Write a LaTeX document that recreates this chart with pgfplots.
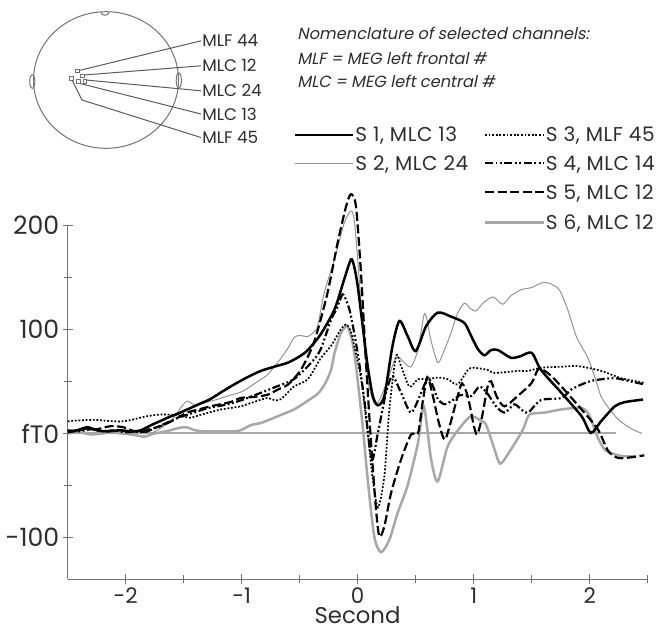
\documentclass[border=0pt]{standalone}
\usepackage{fontspec}
\setmainfont{Poppins}
\newfontfamily\obliquefont{Poppins}[FakeSlant=0.2]
\newfontfamily\legendfont{Poppins}[LetterSpace=3]
\usepackage{pgfplots}
\usepackage{pgfplotstable}
\pgfplotsset{compat=1.18}

\pgfplotstableread{
x y
-2.5 2
-2.42 3
-2.33 6
-2.25 3
-2.15 2
-2.05 3
-1.95 2
-1.87 3
-1.78 8
-1.7 12
-1.62 16
-1.55 19
-1.45 24
-1.35 29
-1.27 33
-1.17 40
-1.065 47
-0.95 54
-0.835 60
-0.72 64
-0.6 68
-0.5 74
-0.43 80
-0.32 95
-0.2 119
-0.116 148
-0.058 167
-0.03 160
0 141.5
0.043 103
0.086 64.6
0.13 36
0.173 27
0.23 36
0.30 84
0.36 108
0.43 93.5
0.50 79
0.59 103
0.69 116
0.806 112
0.92 106
0.978 93.5
1.036 81
1.093 75
1.15 80
1.209 80
1.32 72.6
1.4 74
1.5 77.4
1.58 61
1.756 39
1.93 16.5
2.01 0.5
2.1 12
2.216 26
2.3 30
2.46 32.5
}\sone

\pgfplotstableread{
x y
-2.5 0
-2.4 1
-2.3 -1
-2.2 1
-2.1 0
-2.0 -1
-1.9 -2
-1.84 -4
-1.78 0
-1.7 5
-1.6 13
-1.53 24
-1.47 31
-1.4 27
-1.3 30
-1.2 33
-1.12 36
-1.0 40
-0.9 47
-0.835 52
-0.78 56
-0.69 68
-0.6 82
-0.55 92
-0.5 94
-0.43 93
-0.38 97
-0.345 103
-0.288 135
-0.2 167
-0.116 202
-0.058 213.6
-0.03 205
0 167
0.043 103
0.086 52
0.13 32
0.16 28
0.2 35
0.26 52
0.31 68
0.345 74
0.40 68
0.46 64
0.52 80
0.55 100
0.575 115
0.60 108
0.63 90
0.69 68
0.74 78
0.806 97
0.86 115
0.92 125
0.97 120
1.02 117.5
1.08 125
1.166 131
1.25 124
1.32 132
1.41 138
1.5 140
1.61 145
1.73 139
1.81 119
1.885 93
1.986 72
2.05 52
2.1 35
2.18 22
2.25 13
2.35 5
2.45 0
}\stwo

\pgfplotstableread{
x y
-2.5 11.7
-2.4 12.5
-2.27 13
-2.15 12
-2.04 11.5
-1.95 13
-1.84 16
-1.72 18
-1.61 18
-1.52 17
-1.45 15
-1.35 18
-1.25 21
-1.18 23
-1.01 26
-0.9 30
-0.78 34
-0.72 32
-0.66 33
-0.55 45
-0.43 52
-0.32 72
-0.23 84
-0.144 100
-0.1 104.6
-0.06 98
-0.03 84
0.03 52
0.086 0.5
0.13 -44
0.175 -71
0.23 -41
0.273 23
0.33 74
0.374 64.6
0.446 45
0.52 52
0.60 52
0.69 53.6
0.777 52
0.86 47
0.95 61
1.0 63
1.12 61
1.18 58
1.38 60
1.47 60
1.58 63
1.756 64
1.9 64.6
2.1 60
2.27 53
2.47 48.6
}\sthree

\pgfplotstableread{
x y
-2.5 3
-2.4 2
-2.3 4
-2.2 2
-2.1 3
-2.0 1
-1.9 2
-1.84 1
-1.75 5
-1.65 10
-1.55 15
-1.41 20
-1.3 24
-1.12 28
-1.0 32
-0.835 39
-0.7 45
-0.55 52
-0.40 68
-0.32 80.6
-0.23 109
-0.18 120
-0.13 133.5
-0.09 125
-0.058 112.7
0 77
0.057 32.5
0.12 -25
0.173 0
0.244 39
0.30 55
0.374 39
0.46 20
0.547 39
0.604 53
0.65 45
0.69 33
0.75 28
0.82 32
0.89 37
0.98 36
1.05 45
1.12 38
1.2 25
1.27 20
1.35 28
1.42 22
1.47 20
1.58 32
1.756 34
1.84 42
1.95 48
2.04 51
2.216 53
2.35 50
2.475 47
}\sfour

\pgfplotstableread{
x y
-2.5 1
-2.4 3
-2.33 5
-2.25 4
-2.13 7
-2.02 6
-1.95 3
-1.87 1
-1.80 4
-1.70 7
-1.6 12
-1.47 20
-1.37 23
-1.27 26
-1.1 30
-1.01 34
-0.9 35
-0.78 37
-0.69 42
-0.60 47
-0.49 61
-0.375 88
-0.26 135
-0.173 183
-0.10 218
-0.058 229.6
-0.015 218
0.03 151
0.07 71
0.115 -9
0.158 -73
0.187 -99
0.23 -89
0.288 -57
0.374 -25
0.46 -1
0.52 0
0.56 30
0.60 54
0.64 40
0.70 10
0.75 -6
0.80 10
0.86 35
0.90 48
0.95 35
1.0 8
1.03 -1
1.07 15
1.12 45
1.15 50
1.2 35
1.266 26
1.38 36
1.5 48.6
1.56 62
1.65 57
1.756 45
1.93 23
2.07 4
2.16 -17
2.245 -23.5
2.35 -23
2.47 -21
}\sfive

\pgfplotstableread{
x y
-2.5 0
-2.4 1
-2.3 -1
-2.2 0
-2.1 1
-1.95 -1
-1.84 -3
-1.75 0
-1.65 2
-1.55 5
-1.48 6
-1.4 3
-1.32 2
-1.2 2
-1.07 2
-1.01 3
-0.92 8
-0.835 10
-0.7 16
-0.55 23
-0.45 30
-0.345 38
-0.28 48
-0.23 61
-0.20 77
-0.15 95
-0.116 101
-0.092 103.7
-0.05 90
-0.015 65
0.043 7
0.086 -44
0.143 -99
0.201 -114
0.273 -102
0.345 -76
0.43 -50
0.52 -9
0.57 26
0.633 -25
0.69 -46
0.777 -12
0.892 7
0.978 16.5
1.065 12
1.108 8
1.18 -15.5
1.23 -29
1.32 -15.6
1.425 3.7
1.48 18
1.61 20
1.755 23
1.93 24.5
2.0 16.5
2.07 -4
2.13 -15.6
2.216 -20
2.3 -22
2.4 -22
}\ssix

\definecolor{axisgray}{gray}{0.45}
\definecolor{lightline}{gray}{0.58}
\definecolor{thickgray}{gray}{0.66}
\definecolor{txt}{gray}{0.18}

\tikzset{
  s1/.style={black, line width=1.25pt},
  s2/.style={lightline, line width=0.5pt},
  s3/.style={black, line width=0.85pt, dash pattern=on 0.9pt off 0.9pt},
  s4/.style={black, line width=1.1pt, dash pattern=on 4pt off 1.3pt on 0.9pt off 1.3pt on 0.9pt off 1.3pt},
  s5/.style={black, line width=1.1pt, dash pattern=on 4.5pt off 1.8pt},
  s6/.style={thickgray, line width=1.25pt},
}

\begin{document}
\begin{tikzpicture}
\begin{scope}[x=0.5pt,y=-0.5pt]
\useasboundingbox (0,0) rectangle (656,629);
\coordinate (AX) at (67.7,579.3);
% head diagram
\draw[axisgray, line width=0.5pt] (106,80) ellipse [x radius=72.5, y radius=68.3];
\draw[axisgray, line width=0.5pt] (101,12.2) arc[start angle=180, end angle=0, x radius=4, y radius=3];
\draw[axisgray, line width=0.5pt] (32.3,81.5) ellipse [x radius=2.6, y radius=6.8];
\draw[axisgray, line width=0.5pt] (178.8,80.5) ellipse [x radius=2.6, y radius=7.6];
\foreach \p in {(77.3,71),(82.7,76),(71.7,78.3),(78.3,81.7),(85,81.7)}
  \draw[axisgray, line width=0.45pt, fill=white] \p ++(-1.8,-1.8) rectangle ++(3.6,3.6);
\draw[axisgray!80!black, line width=0.5pt] (79,70.5) -- (201,40.8);
\draw[axisgray!80!black, line width=0.5pt] (84,75) -- (201,65.8);
\draw[axisgray!80!black, line width=0.5pt] (86,80) -- (201,90.8);
\draw[axisgray!80!black, line width=0.5pt] (80,83.5) -- (201,114);
\draw[axisgray!80!black, line width=0.5pt] (72,80) -- (82,100) -- (201,137.5);
\begin{scope}[every node/.style={anchor=base west, inner sep=0pt, text=txt, font=\fontsize{8.4}{10}\selectfont}]
\node at (202,46.7) {MLF 44};
\node at (202,71.7) {MLC 12};
\node at (202,96.7) {MLC 24};
\node at (202,120) {MLC 13};
\node at (202,143.3) {MLF 45};
\end{scope}
% nomenclature
\begin{scope}[every node/.style={anchor=base west, inner sep=0pt, text=txt, font=\obliquefont\fontsize{8.1}{9}\selectfont}]
\node at (297,39.3) {Nomenclature of selected channels:};
\node at (297,64.3) {MLF = MEG left frontal \#};
\node at (297,87.7) {MLC = MEG left central \#};
\end{scope}
% legend
\draw[s1] (295,135) -- (353,135);
\draw[s2] (295,163.3) -- (353,163.3);
\draw[s3] (485,135) -- (544,135);
\draw[s4] (485,163.3) -- (544,163.3);
\draw[s5] (485,192.3) -- (544,192.3);
\draw[s6] (485,222.3) -- (544,222.3);
\begin{scope}[every node/.style={anchor=base west, inner sep=0pt, text=txt, font=\legendfont\fontsize{10}{11}\selectfont}]
\node at (355,141.8) {S 1, MLC 13};
\node at (355,170.1) {S 2, MLC 24};
\node at (545.5,141.8) {S 3, MLF 45};
\node at (545.5,170.1) {S 4, MLC 14};
\node at (545.5,199.1) {S 5, MLC 12};
\node at (545.5,229.1) {S 6, MLC 12};
\end{scope}
% x label
\node[anchor=base, inner sep=0pt, text=txt, font=\fontsize{11.4}{13}\selectfont] at (357.5,623) {Second};
\end{scope}

\begin{axis}[
  at={(AX)}, anchor=south west,
  scale only axis, width=290pt, height=177.15pt,
  xmin=-2.5, xmax=2.5, ymin=-140, ymax=200,
  axis x line=bottom, axis y line=left,
  axis line style={-, axisgray, line width=0.5pt},
  xtick={-2,-1,0,1,2}, xticklabels={-2,-1,0,1,2},
  minor xtick={-1.5,-0.5,0.5,1.5,2.5},
  ytick={-100,0,100,200}, yticklabels={-100,fT0,100,200},
  minor ytick={-50,50,150},
  tick align=center, major tick length=5pt, minor tick length=4pt,
  tick style={axisgray, line width=0.5pt},
  /pgf/number format/assume math mode=true,
  xticklabel style={font=\fontsize{10.7}{12}\selectfont, text=txt},
  yticklabel style={font=\fontsize{12.6}{14}\selectfont, text=txt},
  every tick label/.append style={inner sep=1.5pt},
  clip=false,
]
\addplot[thickgray, line width=1pt] coordinates {(-2.5,0) (2.23,0)};
\addplot[s2, smooth, tension=0.45] table {\stwo};
\addplot[s6, smooth, tension=0.45] table {\ssix};
\addplot[s3, smooth, tension=0.45] table {\sthree};
\addplot[s4, smooth, tension=0.45] table {\sfour};
\addplot[s5, smooth, tension=0.45] table {\sfive};
\addplot[s1, smooth, tension=0.45] table {\sone};
\end{axis}
\end{tikzpicture}
\end{document}
